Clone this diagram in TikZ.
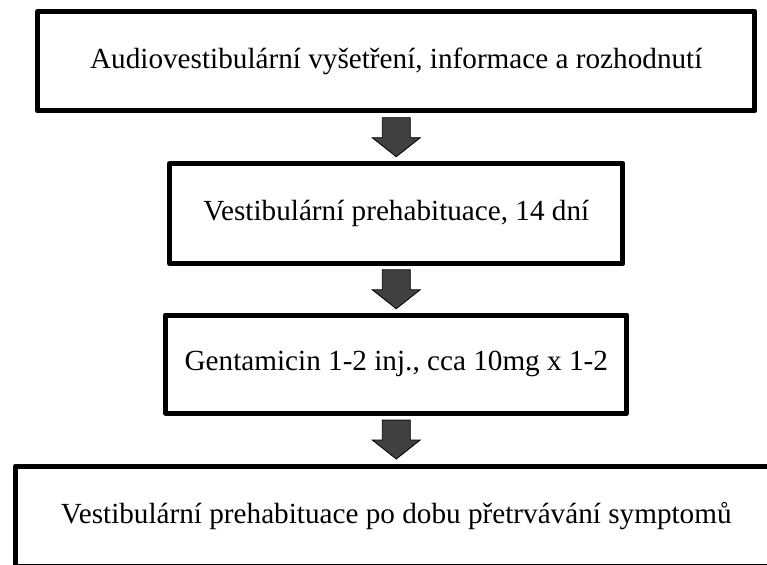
\documentclass[tikz,border=0pt]{standalone}
\usepackage{fontspec}
\setmainfont{Liberation Serif}
\usetikzlibrary{calc}
\definecolor{arrowgrey}{HTML}{404040}
\tikzset{
  stepbox/.style={draw=black, line width=3.75pt, line join=round, rectangle, outer sep=0pt, inner sep=0pt,
    font=\fontsize{21.9}{26}\selectfont, align=center, fill=white},
  barrow/.style={fill=arrowgrey, draw=black, line width=0.6pt, line join=miter}
}
\newcommand{\downblock}[2]{%
  \path ($(#1.south)!0.5!(#2.north)$) coordinate (#1-#2-mid);
  \draw[barrow] ($(#1-#2-mid)+(-14,-19.5)$) -- ++(28,0) -- ++(0,20) -- ++(10,0)
    -- ++(-24,19) -- ++(-24,-19) -- ++(10,0) -- cycle;
}
\begin{document}
\begin{tikzpicture}[x=0.75pt,y=-0.75pt]
\useasboundingbox (0,0) rectangle (767,564);
\clip (0,0) rectangle (767,564);
\fill[white] (0,0) rectangle (767,564);
\node[stepbox, minimum width=538.1pt, minimum height=74.6pt] (a) at (396.25,61.25)
  {Audiovestibulární vyšetření, informace a rozhodnutí};
\node[stepbox, minimum width=340.1pt, minimum height=75pt] (b) at (396.25,213.5)
  {Vestibulární prehabituace, 14 dní};
\node[stepbox, minimum width=346.1pt, minimum height=73.5pt] (c) at (396.25,364)
  {Gentamicin 1-2 inj., cca 10mg x 1-2};
\node[stepbox, minimum width=571.1pt, minimum height=75pt] (d) at (396.25,516)
  {Vestibulární prehabituace po dobu přetrvávání symptomů};
\downblock{a}{b}
\downblock{b}{c}
\downblock{c}{d}
\end{tikzpicture}
\end{document}
